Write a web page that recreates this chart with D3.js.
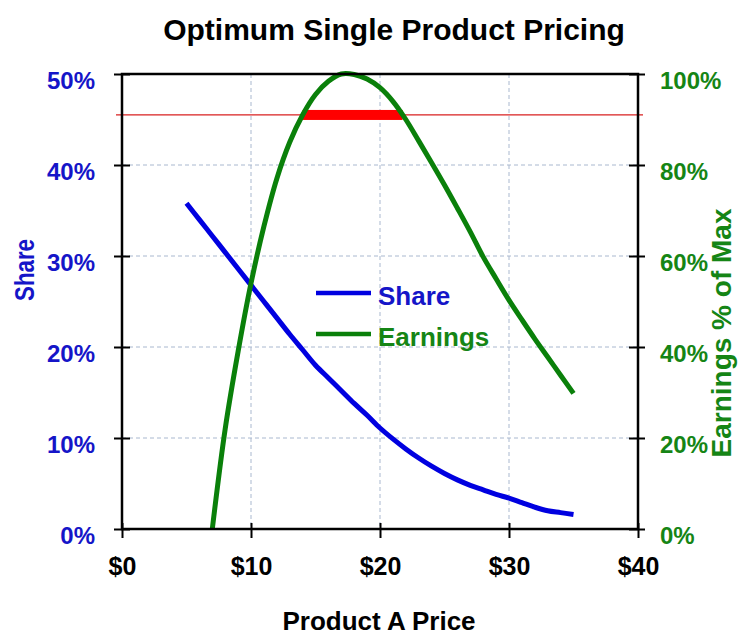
<!DOCTYPE html>
<html>
<head>
<meta charset="utf-8">
<script src="https://cdn.jsdelivr.net/npm/d3@7"></script>
<style>
  html, body { margin: 0; padding: 0; background: #fff; }
  svg { display: block; }
  text { font-family: "Liberation Sans", Arial, Helvetica, sans-serif; font-weight: bold; }
</style>
</head>
<body>
<svg id="chart" width="741" height="636"></svg>
<script>
// Product A price points and the market share reached at each price (%)
const sharePrices = [5, 6, 7, 8, 9, 10, 11, 12, 13, 14, 15, 16, 17, 18, 19, 20,
                     21, 22, 23, 24, 25, 26, 27, 28, 29, 30, 31, 32, 33, 34, 35];
const shareValues = [35.8, 34.0, 32.2, 30.4, 28.6, 26.8, 25.0, 23.2, 21.4, 19.7, 18.0, 16.6, 15.2, 13.8, 12.5, 11.1,
                     9.9, 8.8, 7.8, 6.9, 6.1, 5.4, 4.8, 4.3, 3.8, 3.4, 2.9, 2.4, 2.0, 1.8, 1.6];

// Earnings at each price, as % of the maximum earnings
const earningsPrices = [7, 8, 9, 10, 11, 12, 13, 14, 15, 16, 17, 18, 19, 20, 21,
                        22, 23, 24, 25, 26, 27, 28, 29, 30, 31, 32, 33, 34, 35];
const earningsValues = [0, 22, 39, 54, 66.5, 77, 85, 91, 95.5, 98.4, 100, 99.9, 98.9, 97, 94,
                        90, 85.3, 80.5, 75.6, 70.5, 65.3, 59.8, 55, 50.3, 46, 41.8, 37.8, 33.8, 29.8];

// Near-optimal zone: prices where earnings stay above the threshold
const earningsThreshold = [91];
const optimalPriceRange = [14, 21.75];

// Axis ticks
const priceTicks = [0, 10, 20, 30, 40];
const shareTicks = [0, 10, 20, 30, 40, 50];
const earningsTicks = [0, 20, 40, 60, 80, 100];

const legendLabels = ["Share", "Earnings"];

const BLUE = "#0000e0", BLUE_TEXT = "#1515c8";
const GREEN = "#0a800a", GREEN_TEXT = "#158515";

const svg = d3.select("#chart");
const plot = { left: 122, top: 74, right: 638, bottom: 529 };

const x = d3.scaleLinear().domain([0, 40]).range([plot.left, plot.right]);
const yShare = d3.scaleLinear().domain([0, 50]).range([plot.bottom, plot.top]);
const yEarn = d3.scaleLinear().domain([0, 100]).range([plot.bottom, plot.top]);

// Title
svg.append("text")
  .attr("x", 394).attr("y", 40)
  .attr("text-anchor", "middle")
  .attr("font-size", 30)
  .attr("fill", "#000")
  .text("Optimum Single Product Pricing");

// Gridlines
const grid = svg.append("g")
  .attr("stroke", "#a9b8cf").attr("stroke-width", 1).attr("stroke-dasharray", "4,3");
grid.selectAll("line.v").data(priceTicks.slice(1, -1)).join("line")
  .attr("x1", d => x(d)).attr("x2", d => x(d))
  .attr("y1", plot.top).attr("y2", plot.bottom);
grid.selectAll("line.h").data(shareTicks.slice(1, -1)).join("line")
  .attr("x1", plot.left).attr("x2", plot.right)
  .attr("y1", d => yShare(d)).attr("y2", d => yShare(d));

// Threshold line and the optimal price band
svg.append("line")
  .attr("x1", plot.left - 6).attr("x2", plot.right + 5)
  .attr("y1", yEarn(earningsThreshold[0])).attr("y2", yEarn(earningsThreshold[0]))
  .attr("stroke", "#d82020").attr("stroke-width", 1.3);
svg.append("rect")
  .attr("x", x(optimalPriceRange[0]))
  .attr("width", x(optimalPriceRange[1]) - x(optimalPriceRange[0]))
  .attr("y", yEarn(earningsThreshold[0]) - 5)
  .attr("height", 10)
  .attr("fill", "#ff0000");

// Curves
const shareLine = d3.line()
  .x((d, i) => x(sharePrices[i]))
  .y(d => yShare(d))
  .curve(d3.curveCatmullRom.alpha(0.5));
const earnLine = d3.line()
  .x((d, i) => x(earningsPrices[i]))
  .y(d => yEarn(d))
  .curve(d3.curveCatmullRom.alpha(0.5));

svg.append("path")
  .attr("d", shareLine(shareValues))
  .attr("fill", "none").attr("stroke", BLUE)
  .attr("stroke-width", 5).attr("stroke-linejoin", "round");
svg.append("path")
  .attr("d", earnLine(earningsValues))
  .attr("fill", "none").attr("stroke", GREEN)
  .attr("stroke-width", 5).attr("stroke-linejoin", "round");

// Axes
const leftAxis = svg.append("g")
  .attr("transform", `translate(${plot.left},0)`)
  .call(d3.axisLeft(yShare).tickValues(shareTicks).tickSize(8).tickPadding(19)
    .tickFormat(d => d + "%"));
const rightAxis = svg.append("g")
  .attr("transform", `translate(${plot.right},0)`)
  .call(d3.axisRight(yEarn).tickValues(earningsTicks).tickSize(7).tickPadding(15)
    .tickFormat(d => d + "%"));
const bottomAxis = svg.append("g")
  .attr("transform", `translate(0,${plot.bottom})`)
  .call(d3.axisBottom(x).tickValues(priceTicks).tickSize(9).tickPadding(19)
    .tickFormat(d => "$" + d));

[leftAxis, rightAxis, bottomAxis].forEach(g => {
  g.select(".domain").remove();
  g.selectAll(".tick line").attr("stroke", "#000").attr("stroke-width", 2);
  g.selectAll(".tick text").attr("font-family", null).attr("font-weight", "bold");
});
leftAxis.selectAll(".tick line").attr("x1", 8);
rightAxis.selectAll(".tick line").attr("x1", -9);
bottomAxis.selectAll(".tick line").attr("y1", -6);

leftAxis.selectAll(".tick text")
  .attr("font-size", 24).attr("fill", BLUE_TEXT).attr("dy", "0.62em");
rightAxis.selectAll(".tick text")
  .attr("font-size", 24).attr("fill", GREEN_TEXT).attr("dy", "0.62em");
bottomAxis.selectAll(".tick text")
  .attr("font-size", 25).attr("fill", "#000");
leftAxis.attr("font-size", 24);
rightAxis.attr("font-size", 24);
bottomAxis.attr("font-size", 25);

// Plot frame
svg.append("rect")
  .attr("x", plot.left).attr("y", plot.top)
  .attr("width", plot.right - plot.left).attr("height", plot.bottom - plot.top)
  .attr("fill", "none").attr("stroke", "#000").attr("stroke-width", 2.5);

// Axis titles
svg.append("text")
  .attr("transform", "translate(34,270) rotate(-90)")
  .attr("text-anchor", "middle")
  .attr("font-size", 28)
  .attr("textLength", 62).attr("lengthAdjust", "spacingAndGlyphs")
  .attr("fill", BLUE_TEXT)
  .text("Share");
svg.append("text")
  .attr("transform", "translate(731,333) rotate(-90)")
  .attr("text-anchor", "middle")
  .attr("font-size", 28)
  .attr("fill", GREEN_TEXT)
  .text("Earnings % of Max");
svg.append("text")
  .attr("x", 379).attr("y", 630)
  .attr("text-anchor", "middle")
  .attr("font-size", 26)
  .attr("fill", "#000")
  .text("Product A Price");

// Legend
const legend = svg.append("g").attr("transform", "translate(316,293)");
const legendColors = [[BLUE, BLUE_TEXT], [GREEN, GREEN_TEXT]];
legendLabels.forEach((label, i) => {
  const row = legend.append("g").attr("transform", `translate(0,${i * 41})`);
  row.append("line")
    .attr("x1", 0).attr("x2", 55).attr("y1", 0).attr("y2", 0)
    .attr("stroke", legendColors[i][0]).attr("stroke-width", 4.5);
  row.append("text")
    .attr("x", 62).attr("y", 12)
    .attr("font-size", 26)
    .attr("fill", legendColors[i][1])
    .text(label);
});
</script>
</body>
</html>
